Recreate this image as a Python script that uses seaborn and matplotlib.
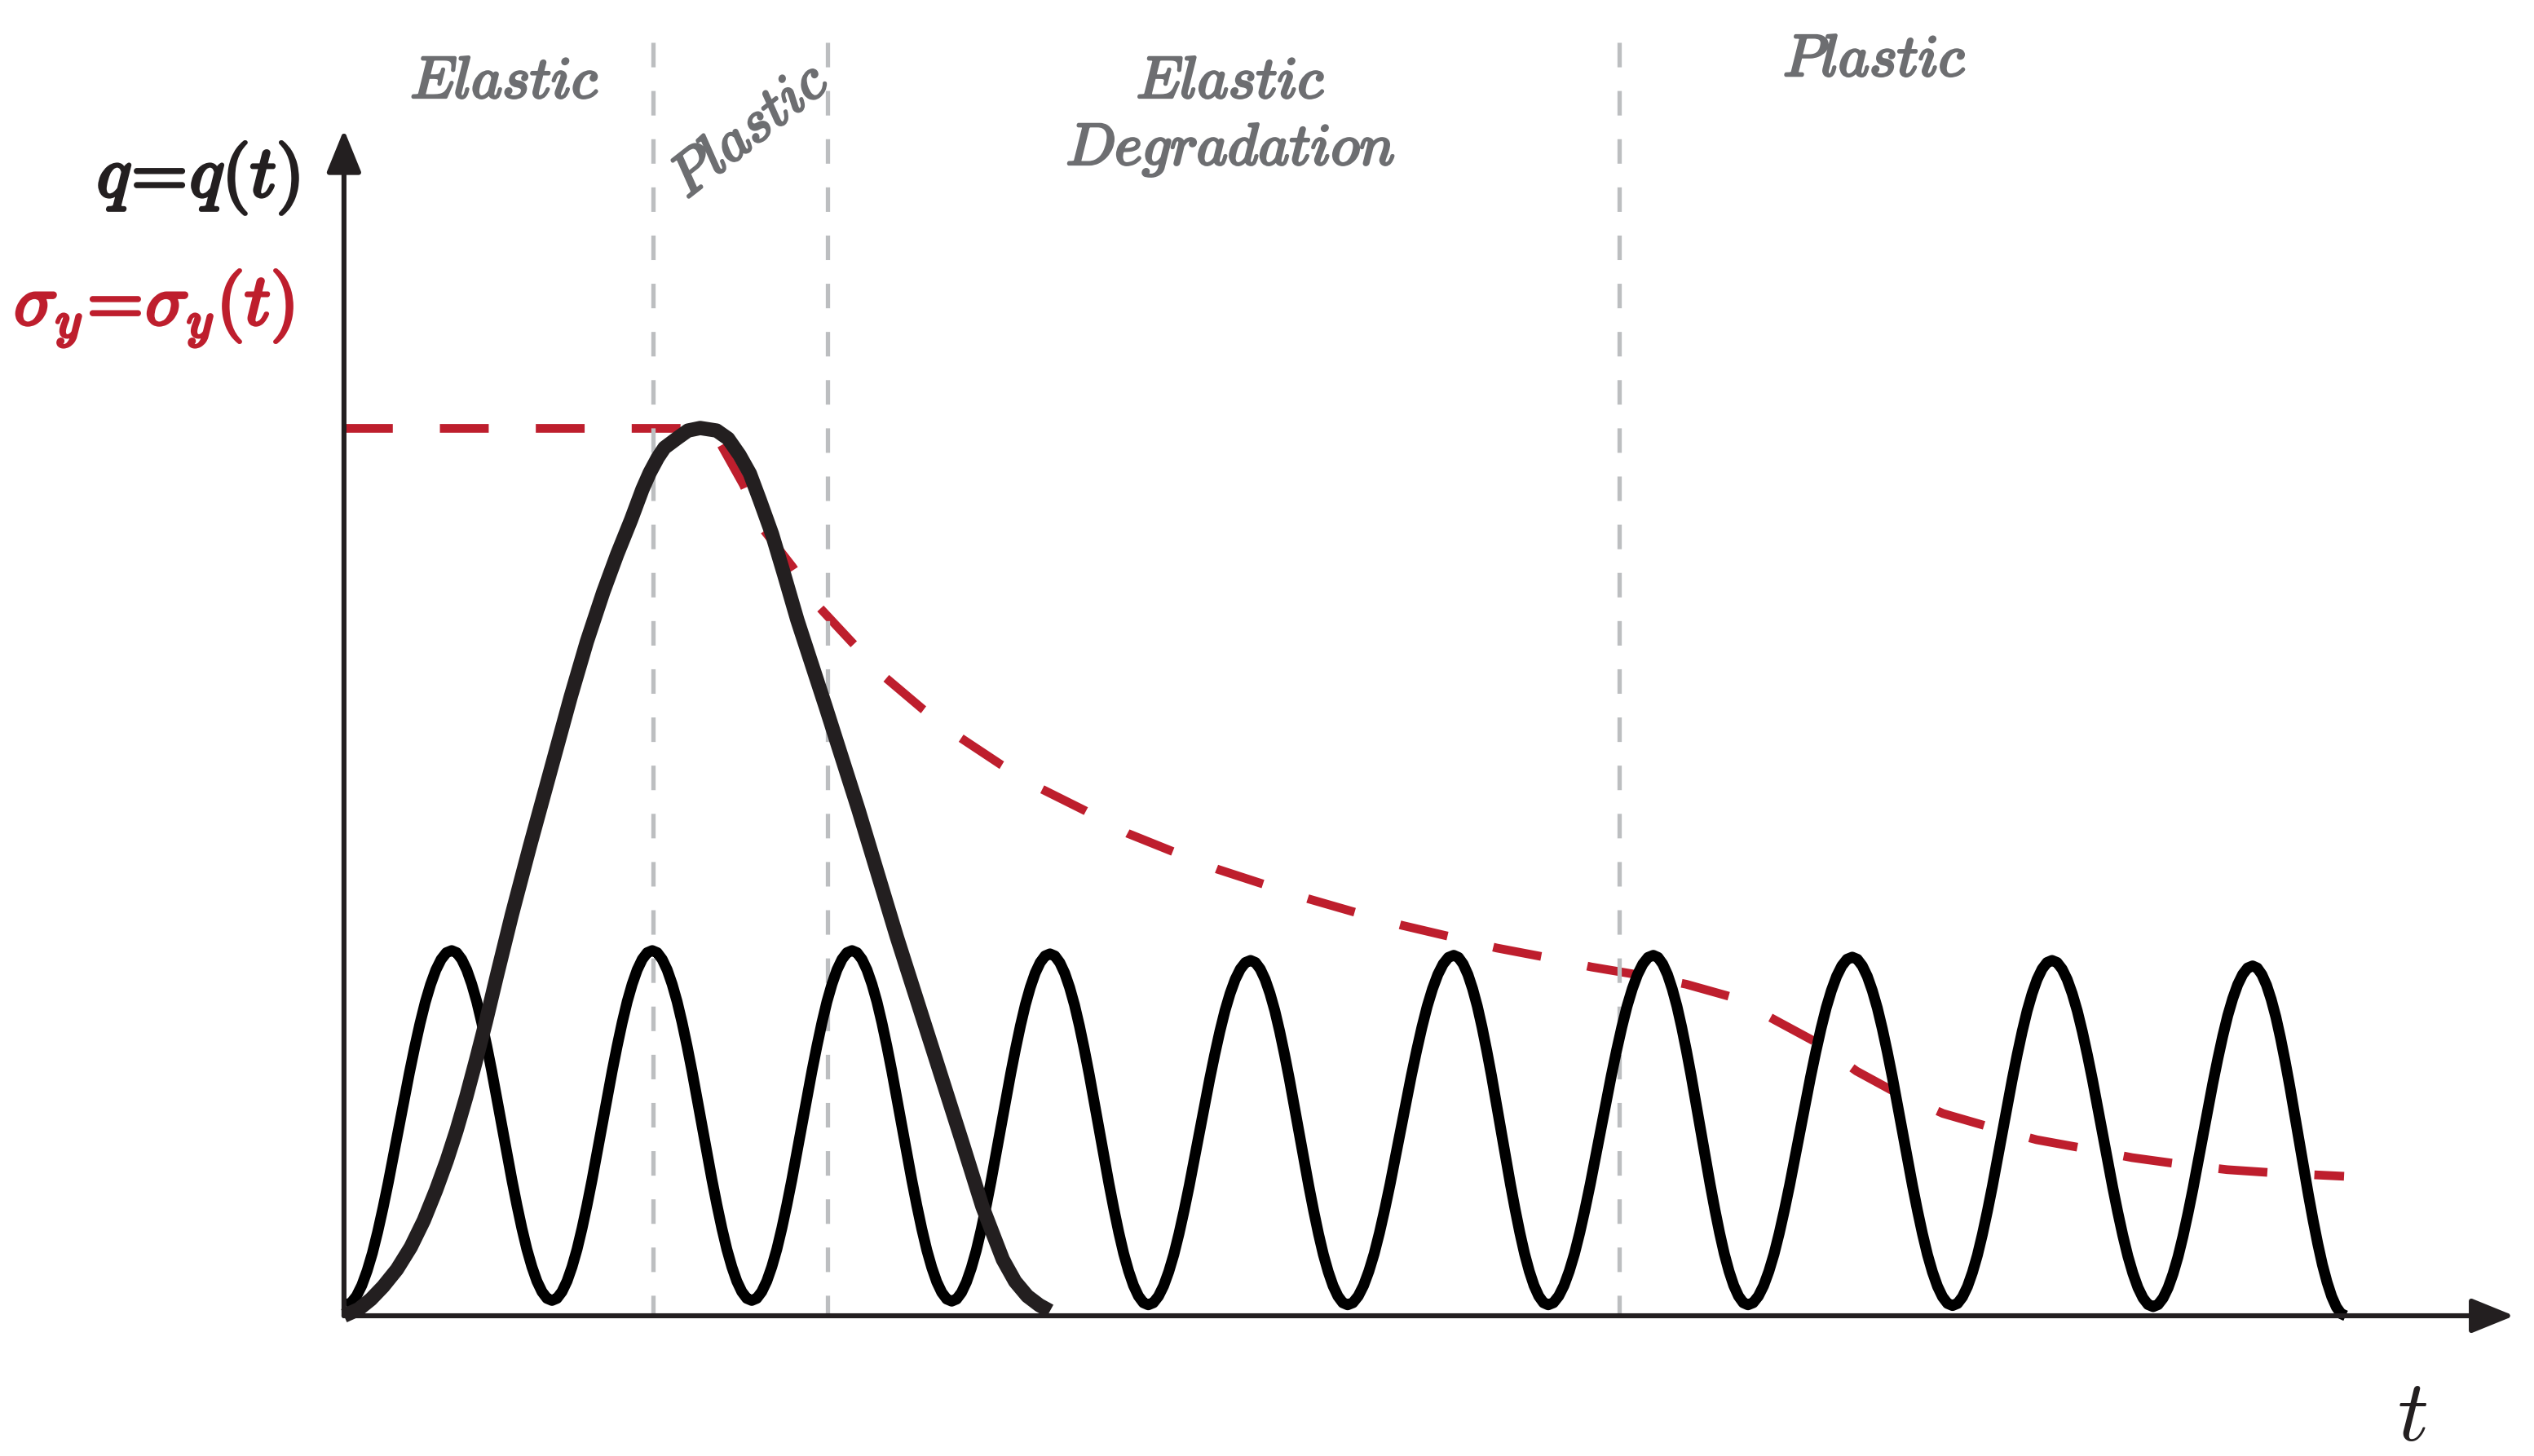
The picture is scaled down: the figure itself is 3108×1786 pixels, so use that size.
import numpy as np
import matplotlib
matplotlib.use("Agg")
import matplotlib.pyplot as plt
import matplotlib.patheffects as pe
import seaborn as sns

# time axis in load periods, values normalised to the cyclic load amplitude

# cyclic load q(t): extreme points (start, peak, trough, ..., end)
wave_t = [0.01, 0.537, 1.037, 1.537, 2.033, 2.533, 3.03, 3.52, 4.01, 4.52, 5.004,
          5.533, 6.004, 6.528, 7.0, 7.52, 8.02, 8.516, 9.02, 9.516, 9.98]
wave_v = [0.03, 1.0, 0.042, 1.0, 0.042, 1.0, 0.04, 0.991, 0.03, 0.973, 0.03,
          0.987, 0.03, 0.987, 0.03, 0.982, 0.028, 0.973, 0.025, 0.958, 0.0]
flank_frac = [0, 0.05, 0.1, 0.15, 0.2, 0.25, 0.3, 0.35, 0.4, 0.45, 0.5,
              0.55, 0.6, 0.65, 0.7, 0.75, 0.8, 0.85, 0.9, 0.95, 1.0]
flank_rise = [0, 0.006, 0.025, 0.055, 0.096, 0.146, 0.206, 0.273, 0.345, 0.422, 0.5,
              0.578, 0.655, 0.727, 0.794, 0.854, 0.904, 0.945, 0.975, 0.994, 1.0]

# single overload pulse
pulse_t = [0.0, 0.073, 0.134, 0.195, 0.264, 0.333, 0.398, 0.459, 0.512, 0.561,
           0.610, 0.659, 0.707, 0.764, 0.837, 0.927, 1.028, 1.130, 1.211, 1.293,
           1.362, 1.431, 1.488, 1.524, 1.565, 1.598, 1.659, 1.715, 1.776, 1.858,
           1.915, 1.972, 2.024, 2.073, 2.134, 2.195, 2.260, 2.402, 2.565, 2.756,
           2.939, 3.081, 3.183, 3.285, 3.346, 3.407, 3.467, 3.520]
pulse_v = [0.0, 0.018, 0.045, 0.080, 0.127, 0.188, 0.261, 0.344, 0.424, 0.507,
           0.600, 0.701, 0.804, 0.935, 1.098, 1.286, 1.489, 1.694, 1.846, 1.982,
           2.085, 2.179, 2.263, 2.308, 2.350, 2.377, 2.402, 2.424, 2.431, 2.424,
           2.402, 2.357, 2.306, 2.234, 2.141, 2.029, 1.906, 1.667, 1.386, 1.038,
           0.723, 0.478, 0.299, 0.154, 0.094, 0.054, 0.029, 0.013]

# yield stress sigma_y(t)
sig_t = [0.0, 1.780, 1.874, 1.992, 2.093, 2.236, 2.370, 2.533, 2.703, 2.886, 3.073,
         3.276, 3.480, 3.699, 3.907, 4.138, 4.354, 4.589, 4.813, 5.053, 5.276,
         5.516, 5.748, 5.988, 6.220, 6.459, 6.691, 6.931, 7.134, 7.350, 7.541,
         7.715, 7.972, 8.211, 8.439, 8.679, 8.915, 9.154, 9.390, 9.634, 9.972]
sig_v = [2.43, 2.43, 2.391, 2.275, 2.152, 2.051, 1.940, 1.844, 1.746, 1.661, 1.583,
         1.509, 1.442, 1.382, 1.321, 1.270, 1.223, 1.181, 1.141, 1.103, 1.069,
         1.038, 1.007, 0.982, 0.955, 0.933, 0.908, 0.871, 0.810, 0.746, 0.670,
         0.618, 0.554, 0.516, 0.482, 0.458, 0.433, 0.415, 0.400, 0.391, 0.382]

# phase boundaries
bounds = [1.541, 2.411, 6.358]

RED = "#BE1E2D"
INK = "#231F20"
GREY_LINE = "#BCBEC0"
GREY_TEXT = "#6D6E71"

sns.set_theme(style="white")
plt.rcParams["mathtext.fontset"] = "cm"

# build the cyclic curve from its extremes and the flank profile
qt, qv = [wave_t[0]], [wave_v[0]]
for i in range(len(wave_t) - 1):
    t0, t1 = wave_t[i], wave_t[i + 1]
    v0, v1 = wave_v[i], wave_v[i + 1]
    for f, r in zip(flank_frac[1:], flank_rise[1:]):
        qt.append(t0 + f * (t1 - t0))
        qv.append(v0 + r * (v1 - v0))

fig = plt.figure(figsize=(15.54, 8.93), dpi=200)
ax = fig.add_axes([0, 0, 1, 1])
ax.set_xlim(-1.715, 10.919)
ax.set_ylim(-0.384, 3.603)
ax.axis("off")

sns.lineplot(x=sig_t, y=sig_v, ax=ax, color=RED, lw=3.85, estimator=None,
             linestyle=(0, (5.6, 5.4)), zorder=1)
for b in bounds:
    ax.plot([b, b], [3.487, 0], color=GREY_LINE, lw=1.9,
            linestyle=(0, (5.7, 5.5)), zorder=2)
sns.lineplot(x=qt, y=qv, ax=ax, color="black", lw=4.8, estimator=None,
             zorder=3, solid_joinstyle="round", solid_capstyle="butt")
sns.lineplot(x=pulse_t, y=pulse_v, ax=ax, color=INK, lw=6.3, estimator=None,
             zorder=4, solid_joinstyle="round", solid_capstyle="butt")

arrow = dict(arrowstyle="-|>,head_length=1.6,head_width=0.65", mutation_scale=10,
             lw=2.2, color=INK, shrinkA=0, shrinkB=0)
ax.annotate("", xy=(10.82, 0), xytext=(0, 0), arrowprops=arrow, zorder=5)
ax.annotate("", xy=(0, 3.248), xytext=(0, 0), arrowprops=arrow, zorder=5)

grey_bold = [pe.withStroke(linewidth=1.1, foreground=GREY_TEXT)]
lab = dict(color=GREY_TEXT, fontsize=26, ha="center", va="baseline",
           path_effects=grey_bold)
ax.text(0.80, 3.335, r"$\mathit{Elastic}$", **lab)
ax.text(2.02, 3.245, r"$\mathit{Plastic}$", color=GREY_TEXT, fontsize=26,
        ha="center", va="center", rotation=38, rotation_mode="anchor",
        path_effects=grey_bold)
ax.text(4.42, 3.335, r"$\mathit{Elastic}$", **lab)
ax.text(4.42, 3.152, r"$\mathit{Degradation}$", **lab)
ax.text(7.63, 3.395, r"$\mathit{Plastic}$", **lab)

bold = lambda c: [pe.withStroke(linewidth=1.4, foreground=c)]
ax.text(-0.224, 3.116, r"$q\!=\!q(t)$", color=INK, fontsize=32, ha="right",
        va="center", path_effects=bold(INK))
ax.text(-0.252, 2.76, r"$\sigma_y\!=\!\sigma_y(t)$", color=RED, fontsize=32,
        ha="right", va="center", path_effects=bold(RED))
ax.text(10.313, -0.277, r"$t$", color=INK, fontsize=38, ha="center", va="center")

fig.savefig("out.png", dpi=200)
